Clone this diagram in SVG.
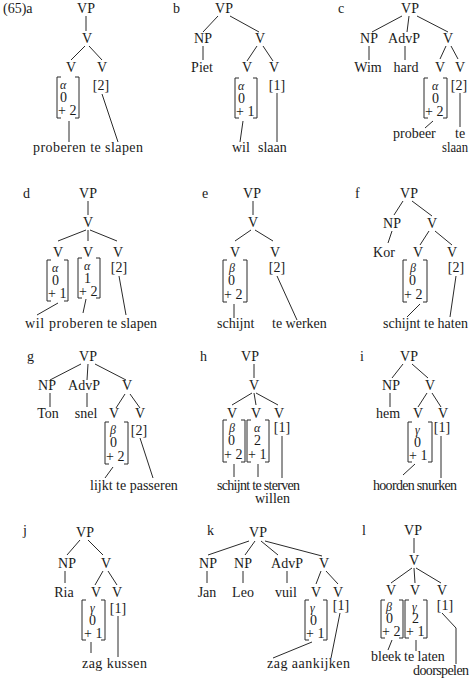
<svg xmlns="http://www.w3.org/2000/svg" width="470" height="684" viewBox="0 0 470 684" font-family="Liberation Serif, Times New Roman, serif" font-size="14">
<style>
text{font-family:'Liberation Serif','Times New Roman',serif;font-size:14px;fill:#1a1a1a}
.m{text-anchor:middle}
.gk{font-style:italic;font-size:12px}
.ln line,.ln polyline,.br{stroke:#2a2a2a;stroke-width:1;fill:none}
</style>
<rect width="470" height="684" fill="#fff"/>

<!-- Tree a -->
<g id="tree-a">
<text x="3" y="13">(65)a</text>
<g id="a-vp"><text class="m" x="86" y="13">VP</text></g>
<g id="a-v"><text class="m" x="87" y="43">V</text></g>
<g id="a-v1"><text class="m" x="71" y="72">V</text></g>
<g id="a-v2"><text class="m" x="102" y="72">V</text></g>
<g id="a-m1" transform="translate(57,77)"><path class="br" d="M4 0H0V41H4M18 0H22V41H18"/><text class="gk" x="3" y="12">α</text><text x="3" y="25">0</text><text x="1" y="38">+ 2</text></g>
<g id="a-f2"><text class="m" x="101" y="90">[2]</text></g>
<g id="a-w"><text x="33" y="152" textLength="110" lengthAdjust="spacing">proberen te slapen</text></g>
<g class="ln"><line x1="86" y1="16" x2="86" y2="31"/><line x1="85" y1="46" x2="71" y2="60"/><line x1="89" y1="46" x2="102" y2="60"/><line x1="69" y1="121" x2="69" y2="142"/><line x1="102" y1="94" x2="118" y2="142"/></g>
</g>

<!-- Tree b -->
<g id="tree-b">
<text x="173" y="13">b</text>
<g id="b-vp"><text class="m" x="224" y="13">VP</text></g>
<g id="b-np"><text class="m" x="203" y="43">NP</text></g>
<g id="b-v"><text class="m" x="260" y="43">V</text></g>
<g id="b-piet"><text class="m" x="202" y="72">Piet</text></g>
<g id="b-v1"><text class="m" x="247" y="72">V</text></g>
<g id="b-v2"><text class="m" x="274" y="72">V</text></g>
<g id="b-m1" transform="translate(235,78)"><path class="br" d="M4 0H0V40H4M18 0H22V40H18"/><text class="gk" x="3" y="12">α</text><text x="3" y="25">0</text><text x="1" y="38">+ 1</text></g>
<g id="b-f2"><text class="m" x="277" y="90">[1]</text></g>
<g id="b-w"><text x="232" y="152">wil</text><text x="258" y="152">slaan</text></g>
<g class="ln"><line x1="218" y1="16" x2="203" y2="32"/><line x1="230" y1="16" x2="259" y2="32"/><line x1="203" y1="46" x2="203" y2="60"/><line x1="257" y1="46" x2="247" y2="61"/><line x1="263" y1="46" x2="273" y2="61"/><line x1="243" y1="121" x2="240" y2="142"/><line x1="277" y1="93" x2="277" y2="142"/></g>
</g>

<!-- Tree c -->
<g id="tree-c">
<text x="338" y="13">c</text>
<g id="c-vp"><text class="m" x="410" y="13">VP</text></g>
<g id="c-np"><text class="m" x="369" y="43">NP</text></g>
<g id="c-advp"><text class="m" x="404" y="43">AdvP</text></g>
<g id="c-v"><text class="m" x="448" y="43">V</text></g>
<g id="c-wim"><text class="m" x="368" y="72">Wim</text></g>
<g id="c-hard"><text class="m" x="406" y="72">hard</text></g>
<g id="c-v1"><text class="m" x="440" y="72">V</text></g>
<g id="c-v2"><text class="m" x="460" y="72">V</text></g>
<g id="c-m1" transform="translate(424,78)"><path class="br" d="M4 0H0V40H4M19 0H23V40H19"/><text class="gk" x="8" y="12">α</text><text x="8" y="25">0</text><text x="1" y="38">+ 2</text></g>
<g id="c-f2"><text class="m" x="459" y="90">[2]</text></g>
<g id="c-w"><text x="393" y="138">probeer</text><text x="455" y="138">te</text><text x="442" y="152" textLength="26" lengthAdjust="spacingAndGlyphs">slaan</text></g>
<g class="ln"><line x1="402" y1="16" x2="372" y2="32"/><line x1="409" y1="16" x2="407" y2="32"/><line x1="417" y1="16" x2="448" y2="32"/><line x1="369" y1="46" x2="369" y2="60"/><line x1="405" y1="46" x2="405" y2="60"/><line x1="446" y1="46" x2="440" y2="59"/><line x1="451" y1="46" x2="458" y2="59"/><line x1="433" y1="121" x2="425" y2="128"/><line x1="460" y1="93" x2="460" y2="127"/></g>
</g>

<!-- Tree d -->
<g id="tree-d">
<text x="23" y="198">d</text>
<g id="d-vp"><text class="m" x="88" y="198">VP</text></g>
<g id="d-v"><text class="m" x="88" y="227">V</text></g>
<g id="d-v1"><text class="m" x="58" y="257">V</text></g>
<g id="d-v2"><text class="m" x="88" y="257">V</text></g>
<g id="d-v3"><text class="m" x="118" y="257">V</text></g>
<g id="d-m1" transform="translate(47,260)"><path class="br" d="M4 0H0V41H4M17 0H21V41H17"/><text class="gk" x="5" y="12">α</text><text x="5" y="25">0</text><text x="1" y="38">+ 1</text></g>
<g id="d-m2" transform="translate(78,258)"><path class="br" d="M4 0H0V40H4M18 0H22V40H18"/><text class="gk" x="6" y="12">α</text><text x="6" y="25">1</text><text x="1" y="38">+ 2</text></g>
<g id="d-f3"><text class="m" x="119" y="272">[2]</text></g>
<g id="d-w"><text x="25" y="328" textLength="78" lengthAdjust="spacing">wil proberen</text><text x="107" y="328" textLength="50" lengthAdjust="spacing">te slapen</text></g>
<g class="ln"><line x1="88" y1="201" x2="88" y2="215"/><line x1="86" y1="230" x2="58" y2="241"/><line x1="88" y1="230" x2="88" y2="241"/><line x1="90" y1="230" x2="117" y2="241"/><line x1="58" y1="303" x2="37" y2="315"/><line x1="86" y1="299" x2="83" y2="313"/><line x1="119" y1="276" x2="126" y2="315"/></g>
</g>

<!-- Tree e -->
<g id="tree-e">
<text x="202" y="198">e</text>
<g id="e-vp"><text class="m" x="252" y="198">VP</text></g>
<g id="e-v"><text class="m" x="253" y="227">V</text></g>
<g id="e-v1"><text class="m" x="235" y="257">V</text></g>
<g id="e-v2"><text class="m" x="275" y="257">V</text></g>
<g id="e-m1" transform="translate(223,260)"><path class="br" d="M4 0H0V42H4M20 0H24V42H20"/><text class="gk" x="6" y="12">β</text><text x="5" y="25">0</text><text x="1" y="39">+ 2</text></g>
<g id="e-f2"><text class="m" x="277" y="272">[2]</text></g>
<g id="e-w"><text x="217" y="328">schijnt</text><text x="272" y="328">te werken</text></g>
<g class="ln"><line x1="253" y1="201" x2="253" y2="215"/><line x1="251" y1="230" x2="235" y2="241"/><line x1="255" y1="230" x2="273" y2="241"/><line x1="234" y1="304" x2="234" y2="318"/><line x1="277" y1="276" x2="297" y2="320"/></g>
</g>

<!-- Tree f -->
<g id="tree-f">
<text x="355" y="198">f</text>
<g id="f-vp"><text class="m" x="409" y="198">VP</text></g>
<g id="f-np"><text class="m" x="392" y="228">NP</text></g>
<g id="f-v"><text class="m" x="432" y="228">V</text></g>
<g id="f-kor"><text class="m" x="384" y="257">Kor</text></g>
<g id="f-v1"><text class="m" x="418" y="257">V</text></g>
<g id="f-v2"><text class="m" x="452" y="257">V</text></g>
<g id="f-m1" transform="translate(403,260)"><path class="br" d="M4 0H0V42H4M20 0H24V42H20"/><text class="gk" x="7" y="12">β</text><text x="6" y="25">0</text><text x="1" y="39">+ 2</text></g>
<g id="f-f2"><text class="m" x="456" y="272">[2]</text></g>
<g id="f-w"><text x="383" y="328">schijnt</text><text x="424" y="328">te haten</text></g>
<g class="ln"><line x1="403" y1="201" x2="394" y2="215"/><line x1="412" y1="201" x2="432" y2="216"/><line x1="392" y1="231" x2="388" y2="243"/><line x1="429" y1="231" x2="420" y2="245"/><line x1="435" y1="231" x2="452" y2="245"/><line x1="420" y1="304" x2="407" y2="317"/><line x1="456" y1="276" x2="450" y2="317"/></g>
</g>

<!-- Tree g -->
<g id="tree-g">
<text x="27" y="361">g</text>
<g id="g-vp"><text class="m" x="88" y="361">VP</text></g>
<g id="g-np"><text class="m" x="47" y="390">NP</text></g>
<g id="g-advp"><text class="m" x="84" y="390">AdvP</text></g>
<g id="g-v"><text class="m" x="127" y="390">V</text></g>
<g id="g-ton"><text class="m" x="48" y="418">Ton</text></g>
<g id="g-snel"><text class="m" x="86" y="418">snel</text></g>
<g id="g-v1"><text class="m" x="114" y="418">V</text></g>
<g id="g-v2"><text class="m" x="140" y="418">V</text></g>
<g id="g-m1" transform="translate(105,422)"><path class="br" d="M4 0H0V42H4M19 0H23V42H19"/><text class="gk" x="5" y="12">β</text><text x="5" y="25">0</text><text x="1" y="39">+ 2</text></g>
<g id="g-f2"><text class="m" x="139" y="435">[2]</text></g>
<g id="g-w"><text x="90" y="490">lijkt te passeren</text></g>
<g class="ln"><line x1="81" y1="364" x2="50" y2="380"/><line x1="88" y1="364" x2="87" y2="380"/><line x1="95" y1="364" x2="126" y2="380"/><line x1="50" y1="393" x2="50" y2="407"/><line x1="87" y1="393" x2="87" y2="407"/><line x1="125" y1="394" x2="116" y2="408"/><line x1="130" y1="394" x2="140" y2="408"/><line x1="113" y1="467" x2="105" y2="478"/><line x1="140" y1="438" x2="153" y2="478"/></g>
</g>

<!-- Tree h -->
<g id="tree-h">
<text x="200" y="361">h</text>
<g id="h-vp"><text class="m" x="250" y="361">VP</text></g>
<g id="h-v"><text class="m" x="254" y="390">V</text></g>
<g id="h-v1"><text class="m" x="232" y="418">V</text></g>
<g id="h-v2"><text class="m" x="256" y="418">V</text></g>
<g id="h-v3"><text class="m" x="279" y="418">V</text></g>
<g id="h-m1" transform="translate(223,420)"><path class="br" d="M4 0H0V42H4M18 0H22V42H18"/><text class="gk" x="6" y="12">β</text><text x="5" y="25">0</text><text x="1" y="39">+ 2</text></g>
<g id="h-m2" transform="translate(247,420)"><path class="br" d="M4 0H0V42H4M18 0H22V42H18"/><text class="gk" x="7" y="12">α</text><text x="7" y="25">2</text><text x="1" y="39">+ 1</text></g>
<g id="h-f3"><text class="m" x="282" y="432">[1]</text></g>
<g id="h-w"><text x="217" y="490" textLength="83" lengthAdjust="spacing">schijnt te sterven</text><text x="255" y="503">willen</text></g>
<g class="ln"><line x1="254" y1="364" x2="254" y2="378"/><line x1="252" y1="393" x2="232" y2="405"/><line x1="254" y1="393" x2="256" y2="405"/><line x1="256" y1="393" x2="278" y2="405"/><line x1="234" y1="464" x2="234" y2="477"/><line x1="258" y1="464" x2="258" y2="477"/><line x1="282" y1="436" x2="282" y2="478"/></g>
</g>

<!-- Tree i -->
<g id="tree-i">
<text x="360" y="361">i</text>
<g id="i-vp"><text class="m" x="409" y="361">VP</text></g>
<g id="i-np"><text class="m" x="391" y="390">NP</text></g>
<g id="i-v"><text class="m" x="430" y="390">V</text></g>
<g id="i-hem"><text class="m" x="388" y="418">hem</text></g>
<g id="i-v1"><text class="m" x="418" y="418">V</text></g>
<g id="i-v2"><text class="m" x="443" y="418">V</text></g>
<g id="i-m1" transform="translate(408,422)"><path class="br" d="M4 0H0V40H4M20 0H24V40H20"/><text class="gk" x="7" y="12">γ</text><text x="6" y="25">0</text><text x="1" y="38">+ 1</text></g>
<g id="i-f2"><text class="m" x="442" y="432">[1]</text></g>
<g id="i-w"><text x="373" y="490" textLength="84" lengthAdjust="spacing">hoorden snurken</text></g>
<g class="ln"><line x1="403" y1="364" x2="392" y2="378"/><line x1="412" y1="364" x2="428" y2="378"/><line x1="390" y1="393" x2="390" y2="407"/><line x1="427" y1="393" x2="418" y2="407"/><line x1="432" y1="393" x2="441" y2="407"/><line x1="415" y1="464" x2="403" y2="475"/><line x1="441" y1="436" x2="441" y2="478"/></g>
</g>

<!-- Tree j -->
<g id="tree-j">
<text x="23" y="535">j</text>
<g id="j-vp"><text class="m" x="85" y="537">VP</text></g>
<g id="j-np"><text class="m" x="67" y="568">NP</text></g>
<g id="j-v"><text class="m" x="106" y="568">V</text></g>
<g id="j-ria"><text class="m" x="64" y="597">Ria</text></g>
<g id="j-v1"><text class="m" x="96" y="597">V</text></g>
<g id="j-v2"><text class="m" x="117" y="597">V</text></g>
<g id="j-m1" transform="translate(82,600)"><path class="br" d="M4 0H0V40H4M19 0H23V40H19"/><text class="gk" x="8" y="12">γ</text><text x="7" y="25">0</text><text x="2" y="38">+ 1</text></g>
<g id="j-f2"><text class="m" x="118" y="613">[1]</text></g>
<g id="j-w"><text x="82" y="668" textLength="65" lengthAdjust="spacing">zag kussen</text></g>
<g class="ln"><line x1="80" y1="540" x2="67" y2="555"/><line x1="88" y1="540" x2="103" y2="555"/><line x1="65" y1="571" x2="65" y2="583"/><line x1="103" y1="571" x2="95" y2="585"/><line x1="108" y1="571" x2="117" y2="585"/><line x1="91" y1="642" x2="91" y2="653"/><line x1="118" y1="616" x2="118" y2="657"/></g>
</g>

<!-- Tree k -->
<g id="tree-k">
<text x="207" y="535">k</text>
<g id="k-vp"><text class="m" x="258" y="537">VP</text></g>
<g id="k-np1"><text class="m" x="208" y="568">NP</text></g>
<g id="k-np2"><text class="m" x="243" y="568">NP</text></g>
<g id="k-advp"><text class="m" x="287" y="568">AdvP</text></g>
<g id="k-v"><text class="m" x="324" y="568">V</text></g>
<g id="k-jan"><text class="m" x="207" y="597">Jan</text></g>
<g id="k-leo"><text class="m" x="243" y="597">Leo</text></g>
<g id="k-vuil"><text class="m" x="286" y="597">vuil</text></g>
<g id="k-v1"><text class="m" x="316" y="597">V</text></g>
<g id="k-v2"><text class="m" x="338" y="597">V</text></g>
<g id="k-m1" transform="translate(305,600)"><path class="br" d="M4 0H0V40H4M18 0H22V40H18"/><text class="gk" x="5" y="12">γ</text><text x="5" y="25">0</text><text x="1" y="38">+ 1</text></g>
<g id="k-f2"><text class="m" x="341" y="610">[1]</text></g>
<g id="k-w"><text x="267" y="668" textLength="83" lengthAdjust="spacing">zag aankijken</text></g>
<g class="ln"><line x1="249" y1="541" x2="208" y2="555"/><line x1="255" y1="541" x2="245" y2="555"/><line x1="261" y1="541" x2="278" y2="555"/><line x1="265" y1="541" x2="322" y2="556"/><line x1="207" y1="571" x2="207" y2="583"/><line x1="243" y1="571" x2="243" y2="583"/><line x1="287" y1="571" x2="287" y2="583"/><line x1="321" y1="571" x2="316" y2="584"/><line x1="326" y1="571" x2="338" y2="584"/><line x1="312" y1="642" x2="273" y2="658"/><line x1="340" y1="613" x2="331" y2="658"/></g>
</g>

<!-- Tree l -->
<g id="tree-l">
<text x="362" y="535">l</text>
<g id="l-vp"><text class="m" x="413" y="535">VP</text></g>
<g id="l-v"><text class="m" x="414" y="565">V</text></g>
<g id="l-v1"><text class="m" x="391" y="595">V</text></g>
<g id="l-v2"><text class="m" x="415" y="595">V</text></g>
<g id="l-v3"><text class="m" x="442" y="595">V</text></g>
<g id="l-m1" transform="translate(381,600)"><path class="br" d="M4 0H0V38H4M18 0H22V38H18"/><text class="gk" x="5" y="11">β</text><text x="5" y="23">0</text><text x="1" y="36">+ 2</text></g>
<g id="l-m2" transform="translate(405,600)"><path class="br" d="M4 0H0V38H4M18 0H22V38H18"/><text class="gk" x="7" y="11">γ</text><text x="7" y="23">2</text><text x="1" y="36">+ 1</text></g>
<g id="l-f3"><text class="m" x="445" y="610">[1]</text></g>
<g id="l-w"><text x="371" y="661">bleek</text><text x="404" y="661">te laten</text><text x="413" y="675" textLength="56" lengthAdjust="spacing">doorspelen</text></g>
<g class="ln"><line x1="414" y1="538" x2="414" y2="553"/><line x1="412" y1="568" x2="391" y2="583"/><line x1="414" y1="568" x2="415" y2="583"/><line x1="416" y1="568" x2="441" y2="583"/><line x1="392" y1="640" x2="388" y2="650"/><line x1="416" y1="640" x2="416" y2="651"/><polyline points="442,613 456,628 456,664"/></g>
</g>
</svg>
